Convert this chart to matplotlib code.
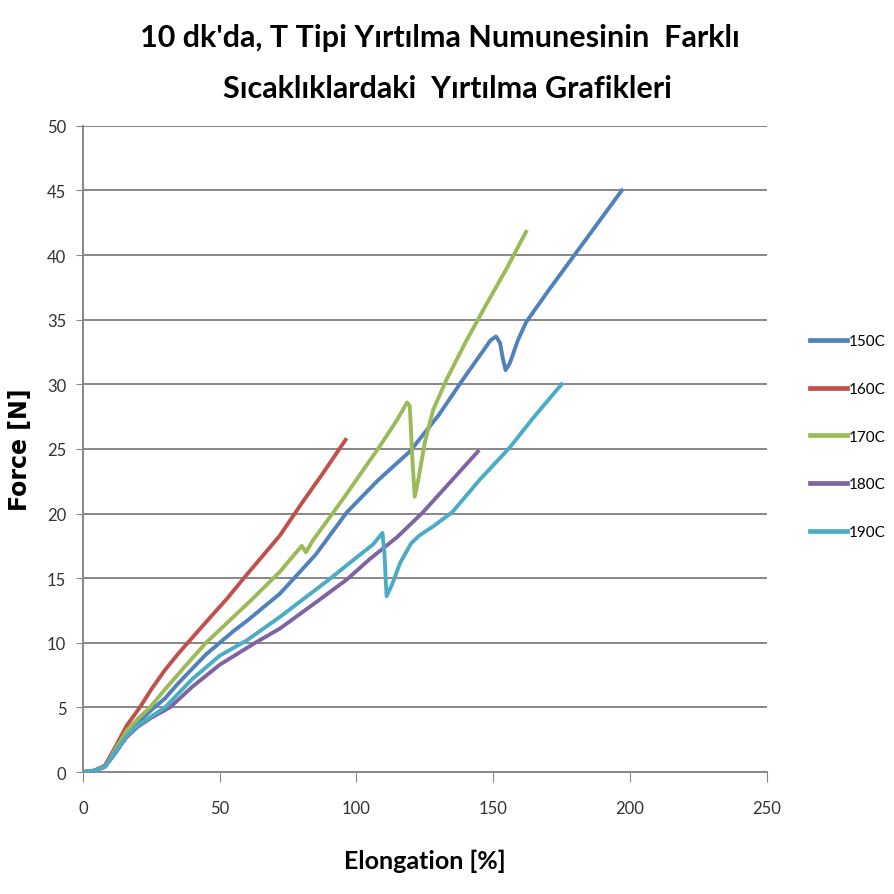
import matplotlib
matplotlib.use('Agg')
from matplotlib import pyplot as plt

# elongation [%] / force [N] readings per tearing temperature
x_150 = [0, 4, 8, 12, 16, 20, 25, 30, 35, 40, 45, 50, 55, 60, 72, 85, 96.5, 108, 119.5, 130, 139, 146,
         149, 151, 152.5, 153.5, 154.5, 156, 159, 162, 170, 179, 188, 197]
y_150 = [0, 0.1, 0.4, 1.5, 2.8, 3.8, 4.8, 5.7, 6.9, 8.0, 9.1, 10.0, 10.9, 11.7, 13.8, 16.8, 20.1, 22.6,
         24.8, 27.6, 30.4, 32.5, 33.4, 33.7, 33.2, 32.0, 31.1, 31.6, 33.4, 34.8, 37.2, 39.8, 42.4, 45.0]

x_160 = [0, 4, 8, 12, 16, 20.8, 25, 30, 35, 40, 45, 52.6, 60, 66, 72, 80, 88, 96]
y_160 = [0, 0.1, 0.5, 2.0, 3.6, 5.0, 6.4, 7.9, 9.2, 10.4, 11.6, 13.4, 15.3, 16.8, 18.3, 20.8, 23.2, 25.7]

x_170 = [0, 4, 8, 12, 16, 20, 24.5, 30, 37, 45, 52, 62, 72, 78, 80, 81.5, 84, 95, 108.5, 115, 118.5,
         119.5, 120.5, 121.3, 122.5, 125, 128, 133, 140, 147, 155, 162]
y_170 = [0, 0.1, 0.4, 1.8, 3.2, 4.1, 5.0, 6.4, 8.1, 10.0, 11.4, 13.4, 15.5, 17.0, 17.5, 17.0, 17.9,
         21.1, 25.2, 27.3, 28.6, 28.3, 24.0, 21.3, 22.5, 25.5, 28.0, 30.4, 33.3, 36.0, 39.0, 41.8]

x_180 = [0, 4, 8, 12, 16, 20, 25, 31.8, 40, 50, 63, 72, 85, 96.5, 105, 115, 124.3, 135, 144.4]
y_180 = [0, 0.1, 0.4, 1.6, 2.7, 3.5, 4.2, 5.0, 6.6, 8.3, 10.0, 11.1, 13.1, 14.9, 16.5, 18.2, 20.1,
         22.6, 24.8]

x_190 = [0, 4, 8, 12, 16, 20, 25, 30, 40, 50, 60, 72, 90, 100, 106, 109.5, 110.2, 111, 113, 116, 120,
         123, 128, 135, 145, 156, 165, 175]
y_190 = [0, 0.1, 0.4, 1.6, 2.8, 3.6, 4.3, 5.0, 7.2, 9.0, 10.2, 12.0, 14.9, 16.6, 17.6, 18.5, 17.0,
         13.6, 14.5, 16.2, 17.7, 18.3, 19.0, 20.1, 22.6, 25.1, 27.5, 30.0]

series = [('150C', x_150, y_150), ('160C', x_160, y_160), ('170C', x_170, y_170),
          ('180C', x_180, y_180), ('190C', x_190, y_190)]
colors = ['#4F81BD', '#C0504D', '#9BBB59', '#8064A2', '#4BACC6']

plt.rcParams['font.family'] = ['Lato', 'DejaVu Sans']

fig = plt.figure(figsize=(8.95, 8.95), dpi=100)
ax = fig.add_axes([0.0927, 0.1363, 0.764, 0.722])

for (name, xs, ys), c in zip(series, colors):
    ax.plot(xs, ys, color=c, lw=2.8, label=name, solid_joinstyle='round', zorder=3)

ax.set_xlim(0, 250)
ax.set_ylim(0, 50)
ax.set_xticks(range(0, 251, 50))
ax.set_yticks(range(0, 51, 5))
ax.yaxis.grid(True, color='#878787', lw=1.4)
ax.set_axisbelow(True)
for s in ['top', 'right']:
    ax.spines[s].set_visible(False)
for s in ['left', 'bottom']:
    ax.spines[s].set_color('#878787')
    ax.spines[s].set_linewidth(1.4)
ax.tick_params(axis='x', direction='out', length=7, color='#878787', pad=13,
               labelsize=12, labelcolor='#333333')
ax.tick_params(axis='y', direction='out', length=5, color='#878787', pad=7,
               labelsize=12, labelcolor='#333333')

ax.set_xlabel('Elongation [%]', fontsize=18, fontweight='bold')
ax.xaxis.set_label_coords(0.5, -0.118)
ax.set_ylabel('Force [N]', fontsize=17, fontweight='bold', family='DejaVu Sans')
ax.yaxis.set_label_coords(-0.075, 0.5)

fig.text(0.492, 0.957, "10 dk'da, T Tipi Yırtılma Numunesinin  Farklı", ha='center', va='center',
         fontsize=22, fontweight='bold')
fig.text(0.500, 0.901, 'Sıcaklıklardaki  Yırtılma Grafikleri', ha='center', va='center',
         fontsize=22, fontweight='bold')

leg = fig.legend(loc='center left', bbox_to_anchor=(0.89, 0.511), frameon=False, fontsize=11,
                 handlelength=2.4, handletextpad=0.15, labelspacing=2.2)
for line in leg.get_lines():
    line.set_linewidth(3.4)

fig.savefig('out.png', dpi=100)
